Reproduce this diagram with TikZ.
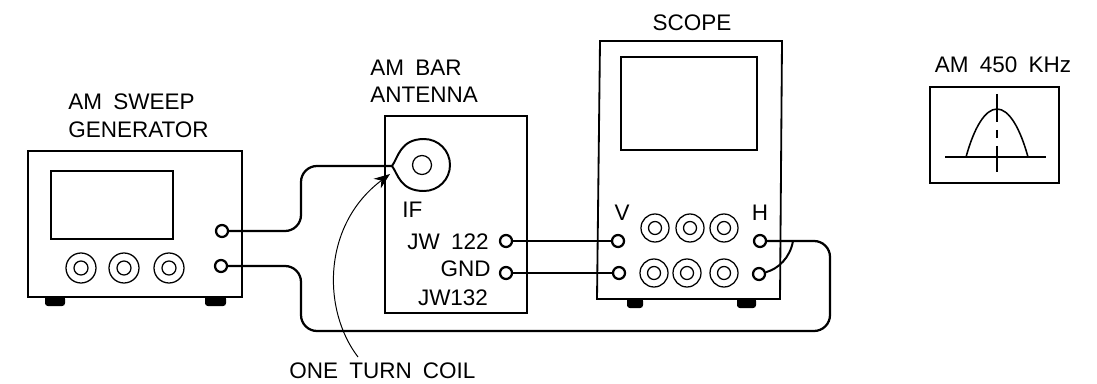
\documentclass[tikz,border=0pt]{standalone}
\usepackage{fontspec}
\setmainfont[WordSpace=1.8]{Liberation Sans}
\usetikzlibrary{arrows.meta}
\tikzset{
    unit/.style = {line width = 1.3pt},
    ring/.style = {line width = .9pt},
    wire/.style = {line width = 1.6pt, rounded corners = 4mm},
    jack/.style = {circle, draw, line width = 1.6pt, fill = white, inner sep = 0pt, minimum size = 3mm},
    lbl/.style = {font = \fontsize{16}{20}\selectfont, inner sep = 0pt, align = left}
}

\begin{document}
\begin{tikzpicture}[x = .25mm, y = -.25mm]
            \useasboundingbox (0,0) rectangle (1097,383);

            % sweep generator
            \draw[unit] (28,151) rectangle (242,297);
            \draw[unit] (51,171) rectangle (173,239);
            \fill[rounded corners = 2pt] (45,296) rectangle (65,306);
            \fill[rounded corners = 2pt] (205,296) rectangle (226,306);
            \draw[ring] (81,268) circle (15) (81,268) circle (7);
            \draw[ring] (124,268) circle (15) (124,268) circle (7);
            \draw[ring] (169,268) circle (15) (169,268) circle (7);
            \node[lbl, anchor = west] (gentop) at (68,102) {AM SWEEP};
            \node[lbl, anchor = west] (genname) at (68,130) {GENERATOR};

            % bar antenna
            \draw[unit] (385,116) rectangle (527,313);
            \draw[ring] (422,165) circle (9.5);
            \coordinate (coiltip) at (392,166);
            \coordinate (coilhead) at (390,174);
            \coordinate (coiltail) at (358,357);
            \draw[line width = 1.4pt] (coiltip) .. controls (398,158) and (400,139) .. (424,139)
                arc (-90:90:26) .. controls (400,191) and (398,174) .. (coiltip);
            \node[lbl, anchor = west] (anttop) at (370,68) {AM BAR};
            \node[lbl, anchor = west] (antname) at (370,95) {ANTENNA};
            \node[lbl, anchor = west] (iflbl) at (402,210) {IF};
            \node[lbl, anchor = east] (jwhigh) at (489,242) {JW 122};
            \node[lbl, anchor = east] (gndlbl) at (491,269) {GND};
            \node[lbl] (jwlow) at (453,298) {JW132};
            \node[lbl, anchor = west] (coillbl) at (289,371) {ONE TURN COIL};

            % scope
            \draw[unit] (600,41) -- (782,41) -- (780,299) -- (597,299) -- cycle;
            \draw[unit] (621,57) rectangle (757,150);
            \fill[rounded corners = 2pt] (627,298) rectangle (643,308);
            \fill[rounded corners = 2pt] (737,298) rectangle (756,308);
            \draw[ring] (655,228) circle (14) (655,228) circle (6.5);
            \draw[ring] (690,228) circle (14) (690,228) circle (6.5);
            \draw[ring] (724,228) circle (14) (724,228) circle (6.5);
            \draw[ring] (654,273) circle (14) (654,273) circle (6.5);
            \draw[ring] (687,273) circle (14) (687,273) circle (6.5);
            \draw[ring] (724,273) circle (14) (724,273) circle (6.5);
            \node[lbl] (scopelbl) at (692,23) {SCOPE};
            \node[lbl] (vlbl) at (622,213) {V};
            \node[lbl] (hlbl) at (760,213) {H};

            % jacks
            \node[jack] (genif) at (222,231) {};
            \node[jack] (gengnd) at (221,266) {};
            \node[jack] (anthigh) at (506,241) {};
            \node[jack] (antgnd) at (506,273) {};
            \node[jack] (scopev) at (618,241) {};
            \node[jack] (scopeg) at (619,273) {};
            \node[jack] (scopeh) at (760,241) {};
            \node[jack] (scopel) at (759,274) {};
            \coordinate (hbranch) at (793,241);

            % wires
            \draw[wire] (genif) -- (301,231) -- (301,166) -- (coiltip);
            \draw[wire] (gengnd) -- (301,266) -- (301,331) -- (830,331) -- (830,241) -- (scopeh);
            \draw[line width = 1.6pt] (anthigh) -- (scopev);
            \draw[line width = 1.6pt] (antgnd) -- (scopeg);
            \draw[line width = 1.4pt] (scopel) .. controls (778,269) and (790,258) .. (hbranch);
            \draw[line width = .7pt, -{Stealth[length = 4mm, width = 3mm]}] (coiltail) .. controls (322,310) and (322,225) .. (coilhead);

            % expected waveform
            \draw[line width = 1.7pt] (930,87) rectangle (1059,183);
            \draw[ring] (945,157) -- (1046,157);
            \draw[ring] (997,94) -- (997,122) (997,130) -- (997,138) (997,146) -- (997,172);
            \draw[line width = 1.1pt] (966,157) .. controls (974,128) and (985,109) .. (997,109)
                .. controls (1009,109) and (1020,128) .. (1028,157);
            \node[lbl] (wavelbl) at (1003,65) {AM 450 KHz};
\end{tikzpicture}
\end{document}
